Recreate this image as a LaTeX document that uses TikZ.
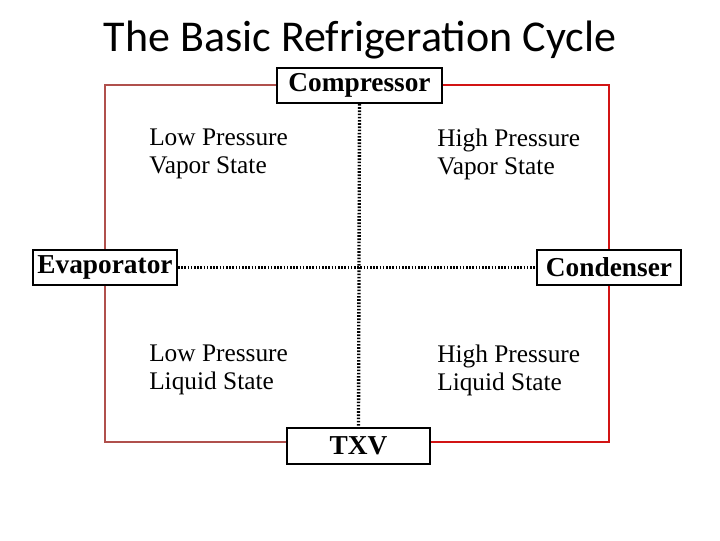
\documentclass[tikz,border=0pt]{standalone}
\usepackage{fontspec}
\setmainfont{Liberation Serif}
\newfontfamily\titlefont{Carlito}
\begin{document}
\begin{tikzpicture}[x=0.75pt,y=-0.75pt,
  box/.style={draw=black,line width=1.5pt,fill=white,inner sep=0pt,font=\fontsize{20.5}{22}\selectfont\bfseries},
  state/.style={anchor=north west,align=left,inner sep=0pt,font=\fontsize{19}{21}\selectfont},
  lpipe/.style={draw={rgb,255:red,176;green,80;blue,76},line width=2pt},
  rpipe/.style={draw={rgb,255:red,210;green,20;blue,20},line width=2pt},
  dots/.style={draw=black,line width=2.5pt,dash pattern=on 1.2pt off 1.2pt}]
\useasboundingbox (0,0) rectangle (720,540);
\node (title) at (360,40) {\titlefont\fontsize{33}{36}\selectfont The Basic Refrigeration Cycle};
\coordinate (ctl) at (105,85);
\coordinate (ctr) at (609,85);
\coordinate (tbl) at (105,442);
\coordinate (tbr) at (609,442);
\node[box,minimum width=165*0.75pt,minimum height=35*0.75pt] (comp) at (359.5,85.5) {Compressor};
\node[box,minimum width=144*0.75pt,minimum height=35*0.75pt] (evap) at (105,267.5) {Evaporator};
\node[box,minimum width=144*0.75pt,minimum height=35*0.75pt] (cond) at (609,267.5) {Condenser};
\node[box,minimum width=143*0.75pt,minimum height=36*0.75pt] (txv) at (358.5,446) {TXV};
\draw[lpipe] (comp.west |- ctl) -- (ctl) -- (evap.north);
\draw[lpipe] (evap.south) -- (tbl) -- (txv.west |- tbl);
\draw[rpipe] (comp.east |- ctr) -- (ctr) -- (cond.north);
\draw[rpipe] (cond.south) -- (tbr) -- (txv.east |- tbr);
\draw[dots] (comp.south) -- (txv.north);
\draw[dots] (evap.east) -- (cond.west);
\node[state] (lpv) at (149,129) {Low Pressure\\Vapor State};
\node[state] (hpv) at (437,129) {High Pressure\\Vapor State};
\node[state] (lpl) at (149,345) {Low Pressure\\Liquid State};
\node[state] (hpl) at (437,345) {High Pressure\\Liquid State};
\end{tikzpicture}
\end{document}
